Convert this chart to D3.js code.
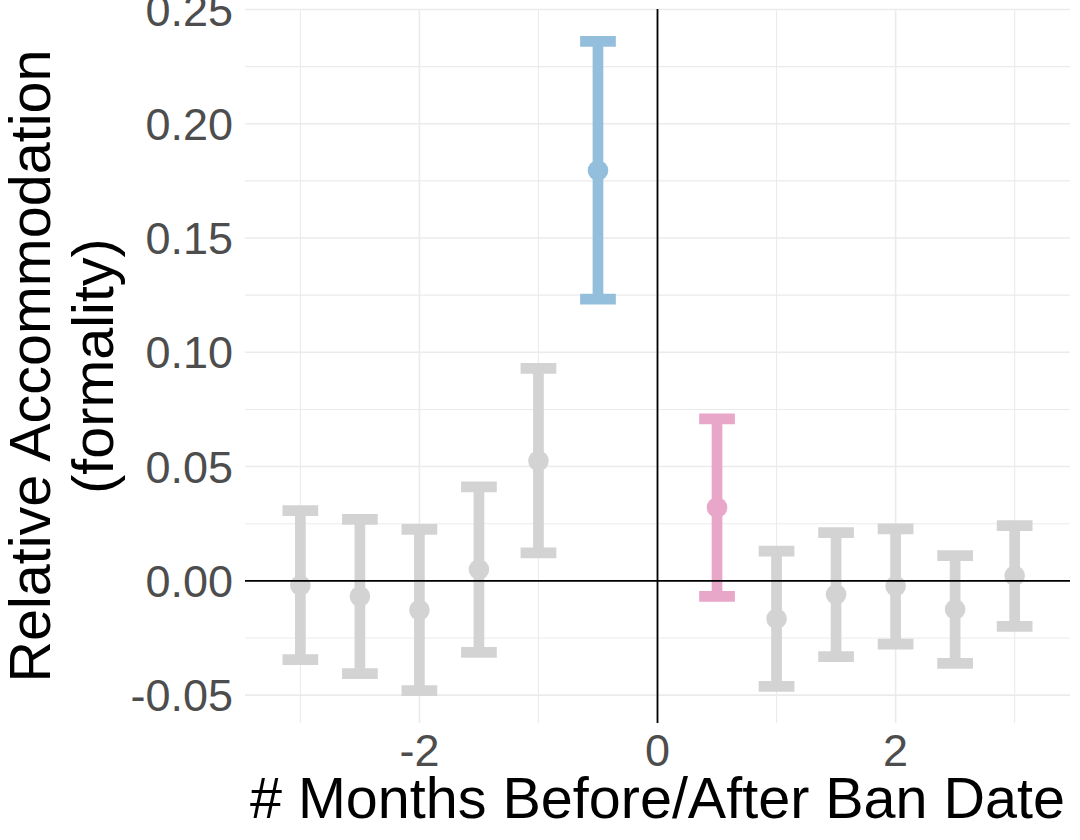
<!DOCTYPE html>
<html>
<head>
<meta charset="utf-8">
<script src="https://cdn.jsdelivr.net/npm/d3@7"></script>
<style>
  body { margin: 0; background: #fff; }
  text { font-family: "Liberation Sans", Arial, sans-serif; }
</style>
</head>
<body>
<div id="chart"></div>
<script>
  // months relative to the ban date
  const months = [-3, -2.5, -2, -1.5, -1, -0.5, 0.5, 1, 1.5, 2, 2.5, 3];
  const estimate = [-0.002, -0.0068, -0.0128, 0.005, 0.0525, 0.1795, 0.0321, -0.0166, -0.006, -0.0023, -0.0125, 0.0022];
  const lower = [-0.0345, -0.0406, -0.048, -0.0313, 0.0122, 0.1233, -0.0068, -0.0462, -0.0332, -0.0277, -0.0361, -0.0199];
  const upper = [0.0307, 0.0269, 0.0225, 0.0411, 0.093, 0.236, 0.0709, 0.013, 0.0211, 0.0227, 0.011, 0.0242];
  const group = ["other", "other", "other", "other", "other", "before", "after", "other", "other", "other", "other", "other"];

  const xMajor = [-2, 0, 2];
  const xMinor = [-3, -1, 1, 3];
  const yMajor = [-0.05, 0, 0.05, 0.1, 0.15, 0.2, 0.25];
  const yMinor = [-0.025, 0.025, 0.075, 0.125, 0.175, 0.225];

  const data = months.map((m, i) => ({
    month: m, est: estimate[i], lo: lower[i], hi: upper[i], group: group[i]
  }));

  const width = 1080;
  const height = 840;
  const panel = { left: 245, right: 1070, top: 9, bottom: 723 };
  const halfWidth = 0.15;

  const colors = { before: "#93bfdc", after: "#e8a6c9", other: "#d3d3d3" };

  // ggplot-like 5% expansion
  const xMin = d3.min(months) - halfWidth, xMax = d3.max(months) + halfWidth;
  const xPad = (xMax - xMin) * 0.05;
  const yMin = d3.min(lower), yMax = d3.max(upper);
  const yPad = (yMax - yMin) * 0.05;

  const x = d3.scaleLinear().domain([xMin - xPad, xMax + xPad]).range([panel.left, panel.right]);
  const y = d3.scaleLinear().domain([yMin - yPad, yMax + yPad]).range([panel.bottom, panel.top]);

  const svg = d3.select("#chart").append("svg")
    .attr("width", width)
    .attr("height", height);

  // grid
  const grid = svg.append("g");
  grid.selectAll(".xminor").data(xMinor).join("line")
    .attr("x1", d => x(d)).attr("x2", d => x(d))
    .attr("y1", panel.top).attr("y2", panel.bottom)
    .attr("stroke", "#ebebeb").attr("stroke-width", 1.1);
  grid.selectAll(".yminor").data(yMinor).join("line")
    .attr("x1", panel.left).attr("x2", panel.right)
    .attr("y1", d => y(d)).attr("y2", d => y(d))
    .attr("stroke", "#ebebeb").attr("stroke-width", 1.1);
  grid.selectAll(".xmajor").data(xMajor).join("line")
    .attr("x1", d => x(d)).attr("x2", d => x(d))
    .attr("y1", panel.top).attr("y2", panel.bottom)
    .attr("stroke", "#ebebeb").attr("stroke-width", 1.6);
  grid.selectAll(".ymajor").data(yMajor).join("line")
    .attr("x1", panel.left).attr("x2", panel.right)
    .attr("y1", d => y(d)).attr("y2", d => y(d))
    .attr("stroke", "#ebebeb").attr("stroke-width", 1.6);

  // error bars
  const bars = svg.append("g").selectAll("g").data(data).join("g");
  bars.append("line")
    .attr("x1", d => x(d.month)).attr("x2", d => x(d.month))
    .attr("y1", d => y(d.lo)).attr("y2", d => y(d.hi))
    .attr("stroke", d => colors[d.group]).attr("stroke-width", 10.7);
  bars.selectAll(".cap").data(d => [
      { m: d.month, v: d.lo, g: d.group },
      { m: d.month, v: d.hi, g: d.group }
    ]).join("line")
    .attr("x1", d => x(d.m - halfWidth)).attr("x2", d => x(d.m + halfWidth))
    .attr("y1", d => y(d.v)).attr("y2", d => y(d.v))
    .attr("stroke", d => colors[d.g]).attr("stroke-width", 10.7);
  bars.append("circle")
    .attr("cx", d => x(d.month)).attr("cy", d => y(d.est))
    .attr("r", 10.3)
    .attr("fill", d => colors[d.group]);

  // zero lines
  svg.append("line")
    .attr("x1", panel.left).attr("x2", panel.right)
    .attr("y1", y(0)).attr("y2", y(0))
    .attr("stroke", "#000").attr("stroke-width", 1.8);
  svg.append("line")
    .attr("x1", x(0)).attr("x2", x(0))
    .attr("y1", panel.top).attr("y2", panel.bottom)
    .attr("stroke", "#000").attr("stroke-width", 1.8);

  // tick labels
  svg.append("g").selectAll("text").data(yMajor).join("text")
    .attr("x", panel.left - 12)
    .attr("y", d => y(d))
    .attr("dy", "0.36em")
    .attr("text-anchor", "end")
    .attr("font-size", 45)
    .attr("fill", "#4d4d4d")
    .text(d => d3.format(".2f")(d).replace("−", "-"));

  svg.append("g").selectAll("text").data(xMajor).join("text")
    .attr("x", d => x(d))
    .attr("y", 766)
    .attr("text-anchor", "middle")
    .attr("font-size", 45)
    .attr("fill", "#4d4d4d")
    .text(d => String(d));

  // axis titles
  svg.append("text")
    .attr("x", (panel.left + panel.right) / 2)
    .attr("y", 818)
    .attr("text-anchor", "middle")
    .attr("font-size", 57.5)
    .attr("fill", "#000")
    .text("# Months Before/After Ban Date");

  const yTitle = svg.append("text")
    .attr("transform", `translate(0,${(panel.top + panel.bottom) / 2}) rotate(-90)`)
    .attr("text-anchor", "middle")
    .attr("font-size", 57.5)
    .attr("fill", "#000");
  yTitle.append("tspan").attr("x", 0).attr("y", 50).text("Relative Accommodation");
  yTitle.append("tspan").attr("x", 0).attr("y", 113).text("(formality)");
</script>
</body>
</html>
